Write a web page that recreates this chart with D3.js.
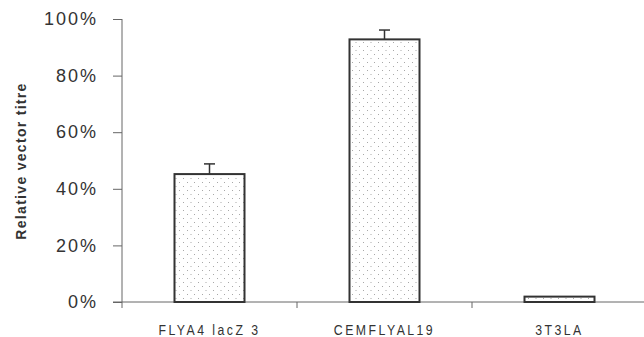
<!DOCTYPE html>
<html>
<head>
<meta charset="utf-8">
<script src="https://cdn.jsdelivr.net/npm/d3@7"></script>
<style>
  body { margin: 0; background: #fff; }
  svg { display: block; }
</style>
</head>
<body>
<div id="chart"></div>
<script>
// data
const categories = ["FLYA4 lacZ 3", "CEMFLYAL19", "3T3LA"];
const titres = [0.452, 0.928, 0.019];
const errors = [0.036, 0.033, 0];
const yTicks = [0, 0.2, 0.4, 0.6, 0.8, 1.0];

const width = 644, height = 337;

const svg = d3.select("#chart")
  .append("svg")
  .attr("width", width)
  .attr("height", height);

// dotted fill
const pat = svg.append("defs").append("pattern")
  .attr("id", "dots")
  .attr("patternUnits", "userSpaceOnUse")
  .attr("width", 15).attr("height", 8);
[[3, 2], [10.5, 2], [7, 6], [14, 6]].forEach(p => {
  pat.append("rect").attr("x", p[0]).attr("y", p[1])
    .attr("width", 1).attr("height", 1).attr("fill", "#a8a8a8");
});

const x = d3.scaleBand()
  .domain(categories)
  .range([122, 647])
  .paddingInner(0.6)
  .paddingOuter(0.3);

const y = d3.scaleLinear()
  .domain([0, 1])
  .range([302, 19]);

const font = "Liberation Sans, Arial, sans-serif";

// y axis
const yAxis = svg.append("g")
  .attr("transform", "translate(122,0)")
  .call(d3.axisLeft(y).tickValues(yTicks).tickFormat(d3.format(".0%")).tickSize(9).tickPadding(15));
yAxis.select(".domain").attr("d", "M0,19V308").attr("stroke", "#666");
yAxis.selectAll(".tick line").attr("stroke", "#666");
yAxis.selectAll("text")
  .style("font-family", font)
  .style("font-size", "18px")
  .style("letter-spacing", "2px")
  .attr("fill", "#333");

// x axis baseline + category boundary ticks
svg.append("line")
  .attr("x1", 113).attr("x2", width)
  .attr("y1", y(0)).attr("y2", y(0))
  .attr("stroke", "#666");

svg.selectAll(".cat-tick")
  .data(categories.slice(1))
  .join("line")
  .attr("x1", d => x(d) - (x.step() - x.bandwidth()) / 2)
  .attr("x2", d => x(d) - (x.step() - x.bandwidth()) / 2)
  .attr("y1", y(0)).attr("y2", y(0) + 6)
  .attr("stroke", "#666");

// condensed-looking category labels
svg.selectAll(".cat-label")
  .data(categories)
  .join("text")
  .attr("transform", d => `translate(${x(d) + x.bandwidth() / 2},335) scale(0.82,1)`)
  .attr("text-anchor", "middle")
  .style("font-family", font)
  .style("font-size", "15px")
  .style("letter-spacing", "3px")
  .attr("fill", "#333")
  .text(d => d);

// bars
svg.selectAll(".bar")
  .data(categories)
  .join("rect")
  .attr("x", d => x(d))
  .attr("y", (d, i) => y(titres[i]))
  .attr("width", x.bandwidth())
  .attr("height", (d, i) => y(0) - y(titres[i]))
  .attr("fill", "url(#dots)")
  .attr("stroke", "#333")
  .attr("stroke-width", 2);

// error bars (upper only)
const errG = svg.selectAll(".err")
  .data(categories.filter((d, i) => errors[i] > 0))
  .join("g");
errG.append("line")
  .attr("x1", d => x(d) + x.bandwidth() / 2)
  .attr("x2", d => x(d) + x.bandwidth() / 2)
  .attr("y1", d => y(titres[categories.indexOf(d)]))
  .attr("y2", d => y(titres[categories.indexOf(d)] + errors[categories.indexOf(d)]))
  .attr("stroke", "#333").attr("stroke-width", 1.5);
errG.append("line")
  .attr("x1", d => x(d) + x.bandwidth() / 2 - 5.5)
  .attr("x2", d => x(d) + x.bandwidth() / 2 + 5.5)
  .attr("y1", d => y(titres[categories.indexOf(d)] + errors[categories.indexOf(d)]))
  .attr("y2", d => y(titres[categories.indexOf(d)] + errors[categories.indexOf(d)]))
  .attr("stroke", "#333").attr("stroke-width", 1.5);

// y axis title
svg.append("text")
  .attr("transform", "translate(26,161) rotate(-90)")
  .attr("text-anchor", "middle")
  .style("font-family", font)
  .style("font-size", "14px")
  .style("font-weight", "bold")
  .style("letter-spacing", "1.3px")
  .attr("fill", "#333")
  .text("Relative vector titre");
</script>
</body>
</html>
